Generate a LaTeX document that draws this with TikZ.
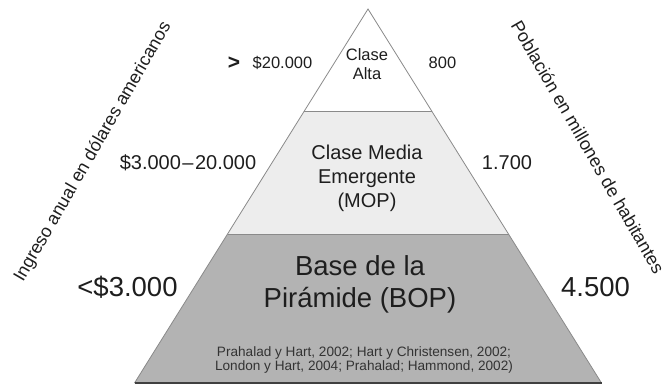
\documentclass[tikz,border=0pt]{standalone}
\usepackage{fontspec}
\setmainfont{Liberation Sans}
\definecolor{midgray}{HTML}{EDEDED}
\definecolor{basegray}{HTML}{B3B3B3}
\definecolor{edgegray}{HTML}{8A8A8A}
\definecolor{txt}{HTML}{1E1E1E}
\definecolor{citetxt}{HTML}{333333}
\begin{document}
\begin{tikzpicture}[x=1pt,y=-1pt,
  lbl/.style={inner sep=0pt, outer sep=0pt, text=txt, align=center},
  small/.style={lbl, font=\fontsize{16.5}{19}\selectfont},
  medium/.style={lbl, font=\fontsize{20}{24}\selectfont},
  large/.style={lbl, font=\fontsize{27.5}{32}\selectfont},
  citefont/.style={lbl, text=citetxt, font=\fontsize{13.6}{14.5}\selectfont},
  axislbl/.style={lbl, font=\fontsize{18}{22}\selectfont},
  edge/.style={draw=edgegray, line width=0.8pt},
  baseedge/.style={draw=black!75, line width=2.2pt}]
\useasboundingbox (0,0) rectangle (668,384);
\coordinate (A) at (368,9);
\coordinate (L1) at (304.3,111);
\coordinate (R1) at (431.7,111);
\coordinate (L2) at (227.5,234);
\coordinate (R2) at (508.5,234);
\coordinate (BL) at (134.5,383);
\coordinate (BR) at (601.5,383);
% fills
\fill[white] (A) -- (R1) -- (L1) -- cycle;
\fill[midgray] (L1) -- (R1) -- (R2) -- (L2) -- cycle;
\fill[basegray] (L2) -- (R2) -- (BR) -- (BL) -- cycle;
% outlines
\draw[edge] (BL) -- (A) -- (BR);
\draw[edge] (L1) -- (R1);
\draw[edge] (L2) -- (R2);
\draw[baseedge] (BL) -- (BR);
% tier texts
\node[small] (alta) at (367,64) {Clase\\Alta};
\node[medium] (media) at (367,178) {Clase Media\\Emergente\\(MOP)};
\node[large] (bop) at (360,284) {Base de la\\Pirámide (BOP)};
\node[citefont] (cite) at (364,360) {Prahalad y Hart, 2002; Hart y Christensen, 2002;\\London y Hart, 2004; Prahalad; Hammond, 2002)};
% income
\node[lbl, font=\fontsize{21}{22}\bfseries] (gt) at (234,63) {>};
\node[small] (inc1) at (282.5,63) {\$20.000};
\node[medium] (inc2) at (188,163) {\$3.000\kern1.5pt–\kern1.5pt20.000};
\node[large] (inc3) at (127.5,287) {<\$3.000};
% population
\node[small] (pop1) at (442.5,63) {800};
\node[medium] (pop2) at (507,163) {1.700};
\node[large] (pop3) at (595.5,287) {4.500};
% axis labels
\node[axislbl, rotate=60] (ylbl) at (93,152) {Ingreso anual en dólares americanos};
\node[axislbl, rotate=-60] (plbl) at (588,147) {Población en millones de habitantes};
\end{tikzpicture}
\end{document}
